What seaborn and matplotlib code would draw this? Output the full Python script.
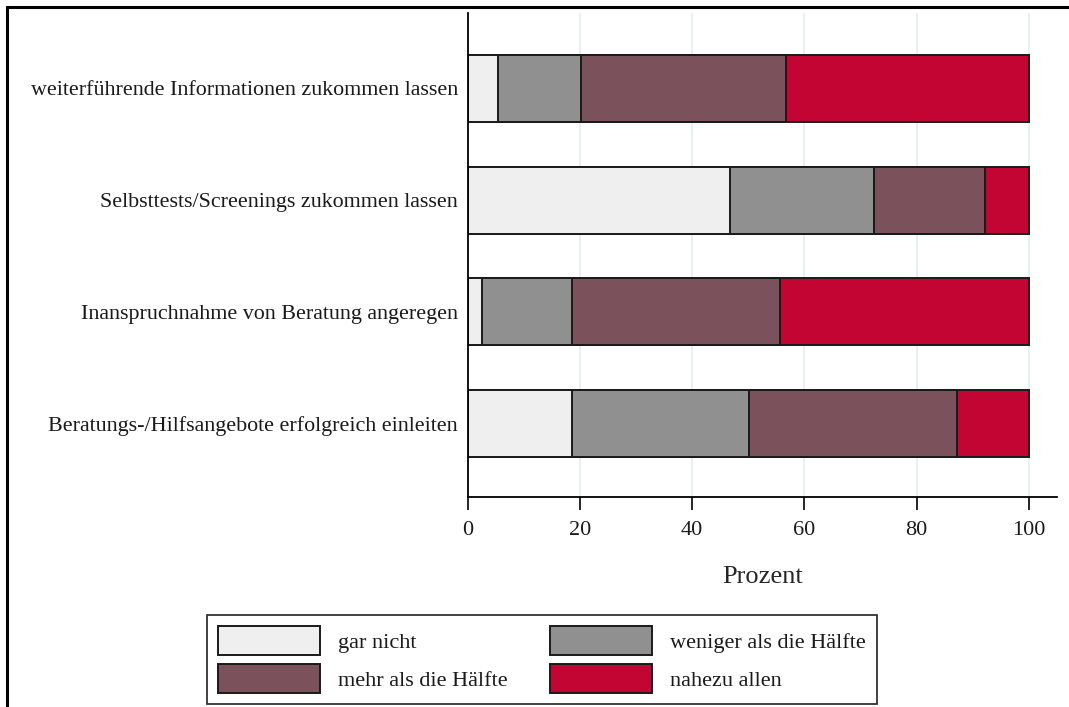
import matplotlib
matplotlib.use("Agg")
import matplotlib.pyplot as plt
from matplotlib.patches import Patch, Rectangle
import seaborn as sns
import pandas as pd
import numpy as np

categories = [
    "weiterführende Informationen zukommen lassen",
    "Selbsttests/Screenings zukommen lassen",
    "Inanspruchnahme von Beratung angeregen",
    "Beratungs-/Hilfsangebote erfolgreich einleiten",
]
series_names = ["gar nicht", "weniger als die Hälfte", "mehr als die Hälfte", "nahezu allen"]
gar_nicht = [5.5, 46.8, 2.5, 18.7]
weniger = [14.7, 25.6, 16.2, 31.5]
mehr = [36.5, 19.7, 37.0, 36.9]
nahezu = [43.3, 7.9, 44.3, 12.9]
colors = ["#efefef", "#909090", "#7b525b", "#c20532"]
xticks = [0, 20, 40, 60, 80, 100]

sns.set_theme(style="white")
plt.rcParams["font.family"] = ["Liberation Serif", "DejaVu Serif"]

fig = plt.figure(figsize=(10.69, 7.07), dpi=100)
ax = fig.add_axes([467.5 / 1069, 1 - 497 / 707, (1057 - 467.5) / 1069, (497 - 13) / 707])

vals = np.array([gar_nicht, weniger, mehr, nahezu])
cum = np.cumsum(vals, axis=0)
for i in range(3, -1, -1):
    df = pd.DataFrame({"cat": categories, "val": cum[i]})
    sns.barplot(data=df, y="cat", x="val", orient="h", color=colors[i],
                saturation=1, width=0.6, edgecolor="#1a1a1a", linewidth=1.4, ax=ax)

ax.set_xlim(0, 105)
ax.set_ylim(3.658, -0.676)
ax.set_xticks(xticks)
ax.set_xticklabels([str(t) for t in xticks], fontsize=16)
ax.tick_params(axis="y", length=0, pad=7, labelsize=15.8)
ax.tick_params(axis="x", length=9, width=1.2, direction="out", color="black", pad=8, bottom=True)
for t in xticks:
    if t > 0:
        ax.axvline(t, color="#e3eef1", linewidth=1.2, zorder=0)
ax.set_axisbelow(True)
ax.set_ylabel("")
ax.set_xlabel("Prozent", fontsize=19, labelpad=19)
for s in ["top", "right"]:
    ax.spines[s].set_visible(False)
for s in ["left", "bottom"]:
    ax.spines[s].set_color("black")
    ax.spines[s].set_linewidth(1.3)
for lab in ax.get_yticklabels() + ax.get_xticklabels():
    lab.set_color("#1a1a1a")

handles = [Patch(facecolor=c, edgecolor="#1a1a1a", linewidth=1.4) for c in colors]
order = [0, 2, 1, 3]
leg = fig.legend([handles[k] for k in order], [series_names[k] for k in order], ncol=2,
                 loc="upper left",
                 bbox_to_anchor=(207 / 1069, 1 - 615 / 707), borderaxespad=0,
                 fontsize=16, frameon=True, fancybox=False, edgecolor="black",
                 handlelength=4.6, handleheight=1.6, handletextpad=0.8,
                 columnspacing=1.9, labelspacing=0.42, borderpad=0.5)
leg.get_frame().set_linewidth(1.3)
for txt in leg.get_texts():
    txt.set_color("#1a1a1a")

fig.patches.append(Rectangle((7 / 1069, -0.2), 1.5, 1.2 - 7 / 707, transform=fig.transFigure,
                             fill=False, edgecolor="black", linewidth=2.2, zorder=10))

fig.savefig("out.png", dpi=100)
